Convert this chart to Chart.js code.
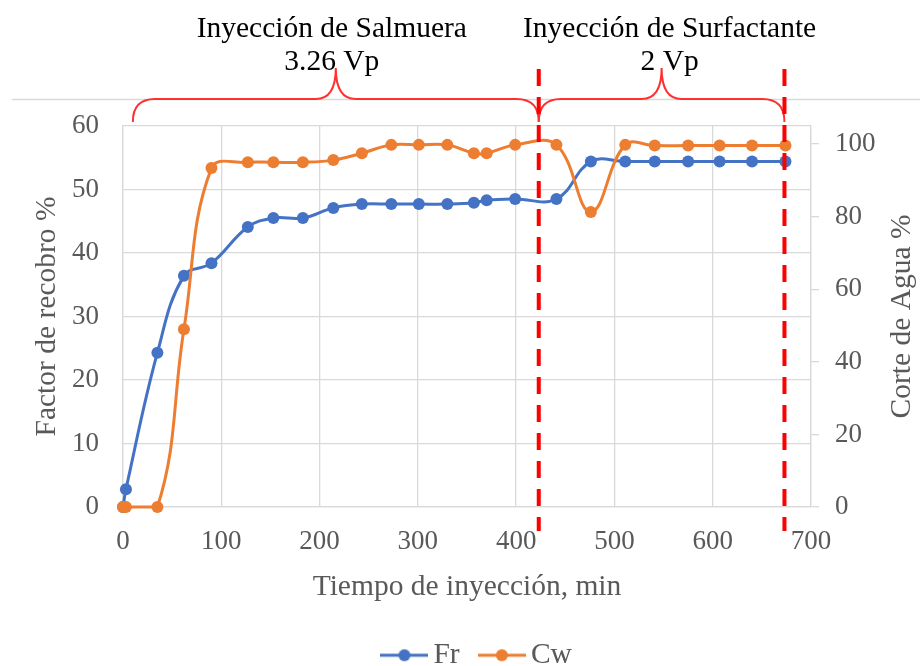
<!DOCTYPE html>
<html><head><meta charset="utf-8">
<script src="https://cdn.jsdelivr.net/npm/chart.js@4/dist/chart.umd.min.js"></script>
<style>html,body{margin:0;padding:0;background:#fff}#wrap{width:920px;height:666px}</style>
</head><body><div id="wrap"><canvas id="c" width="920" height="666"></canvas></div>
<script>
// ---- data ----
const timeMin  = [0, 3, 35, 62, 90, 127, 153, 183, 214, 243, 273, 301, 330, 357, 370, 399, 441, 476, 511, 541, 575, 607, 640, 674];
const frValues = [0, 2.8, 24.3, 36.4, 38.4, 44.1, 45.5, 45.5, 47.1, 47.7, 47.7, 47.7, 47.7, 47.9, 48.3, 48.5, 48.5, 54.4, 54.4, 54.4, 54.4, 54.4, 54.4, 54.4];
const cwValues = [0, 0, 0, 49, 93.4, 95, 95, 95, 95.6, 97.5, 99.8, 99.8, 99.8, 97.5, 97.5, 99.8, 99.8, 81.3, 99.8, 99.6, 99.6, 99.6, 99.6, 99.6];
const seriesNames = ['Fr', 'Cw'];
const xTickValues = [0, 100, 200, 300, 400, 500, 600, 700];
const leftTickValues = [0, 10, 20, 30, 40, 50, 60];
const rightTickValues = [0, 20, 40, 60, 80, 100];
const phaseBounds = [423, 673];
const braceSpans = [[10, 423], [423, 673]];
const phaseTitles = ['Inyección de Salmuera', 'Inyección de Surfactante'];
const phaseVolumes = ['3.26 Vp', '2 Vp'];

const FAM = "'Liberation Serif','Times New Roman',serif";
const GRAY = '#595959', GRID = '#d9d9d9';
const BLUE = '#4472C4', ORANGE = '#ED7D31';

function makeIcon(color){
  const c = document.createElement('canvas'); c.width = 48; c.height = 14;
  const g = c.getContext('2d');
  g.strokeStyle = color; g.lineWidth = 3;
  g.beginPath(); g.moveTo(0, 7); g.lineTo(48, 7); g.stroke();
  g.fillStyle = color; g.beginPath(); g.arc(24, 7, 6, 0, Math.PI * 2); g.fill();
  return c;
}
const icons = [makeIcon(BLUE), makeIcon(ORANGE)];

const phasePlugin = {
  id: 'phases',
  afterLayout(chart){
    const lg = chart.legend;
    if (lg){ lg.top += 14; lg.bottom += 14; lg.left += 21; lg.right += 21; }
  },
  beforeDraw(chart){
    const ctx = chart.ctx; ctx.save(); ctx.fillStyle = '#fff'; ctx.fillRect(0, 0, chart.width, chart.height); ctx.restore();
  },
  afterDatasetsDraw(chart){
    const ctx = chart.ctx, xs = chart.scales.x, a = chart.chartArea;
    ctx.save();
    ctx.strokeStyle = GRID; ctx.lineWidth = 1.5;
    ctx.beginPath(); ctx.moveTo(12, 99.5); ctx.lineTo(chart.width, 99.5); ctx.stroke();
    ctx.strokeStyle = '#ff3030'; ctx.lineWidth = 2;
    braceSpans.forEach(([s, e]) => {
      const x0 = xs.getPixelForValue(s), x1 = xs.getPixelForValue(e), xm = (x0 + x1) / 2;
      const yb = 99, ye = 122, yt = 68, r = 22, rt = 20;
      ctx.beginPath();
      ctx.moveTo(x0, ye);
      ctx.quadraticCurveTo(x0, yb, x0 + r, yb);
      ctx.lineTo(xm - rt, yb);
      ctx.quadraticCurveTo(xm, yb, xm, yt);
      ctx.quadraticCurveTo(xm, yb, xm + rt, yb);
      ctx.lineTo(x1 - r, yb);
      ctx.quadraticCurveTo(x1, yb, x1, ye);
      ctx.stroke();
    });
    ctx.strokeStyle = '#ff0000'; ctx.lineWidth = 4; ctx.setLineDash([17, 11]);
    phaseBounds.forEach(v => {
      const px = xs.getPixelForValue(v);
      ctx.beginPath(); ctx.moveTo(px, 69); ctx.lineTo(px, 531); ctx.stroke();
    });
    ctx.setLineDash([]);
    ctx.fillStyle = '#000'; ctx.font = '29.5px ' + FAM; ctx.textAlign = 'center'; ctx.textBaseline = 'alphabetic';
    const offs = [-4, 8];
    braceSpans.forEach(([s, e], i) => {
      const xm = (xs.getPixelForValue(s) + xs.getPixelForValue(e)) / 2 + offs[i];
      ctx.fillText(phaseTitles[i], xm, 37);
      ctx.fillText(phaseVolumes[i], xm, 70);
    });
    // right axis title (reads bottom to top)
    const y1 = chart.scales.y1;
    ctx.fillStyle = GRAY; ctx.textBaseline = 'middle';
    ctx.translate(y1.right - 18, (a.top + a.bottom) / 2);
    ctx.rotate(-Math.PI / 2);
    ctx.fillText('Corte de Agua %', 0, 0);
    ctx.restore();
  }
};

const setTicks = arr => s => { s.ticks = arr.map(v => ({value: v})); };

new Chart(document.getElementById('c'), {
  type: 'line',
  data: {
    datasets: [
      { label: seriesNames[0], data: timeMin.map((t, i) => ({x: t, y: frValues[i]})), yAxisID: 'y',
        borderColor: BLUE, backgroundColor: BLUE, pointBackgroundColor: BLUE, pointBorderWidth: 0,
        pointRadius: 6, borderWidth: 3, tension: 0.4, clip: false, order: 1 },
      { label: seriesNames[1], data: timeMin.map((t, i) => ({x: t, y: cwValues[i]})), yAxisID: 'y1',
        borderColor: ORANGE, backgroundColor: ORANGE, pointBackgroundColor: ORANGE, pointBorderWidth: 0,
        pointRadius: 6, borderWidth: 3, tension: 0.4, clip: false, order: 0 }
    ]
  },
  options: {
    responsive: false, animation: false, devicePixelRatio: 1,
    layout: { padding: { top: 126, left: 0, right: 0, bottom: 0 } },
    plugins: {
      tooltip: { enabled: false },
      legend: {
        position: 'bottom',
        labels: {
          usePointStyle: true, pointStyleWidth: 28.5, padding: 28, color: GRAY,
          font: { family: FAM, size: 29.5 },
          sort: (a, b) => a.datasetIndex - b.datasetIndex,
          generateLabels(chart){
            const items = Chart.defaults.plugins.legend.labels.generateLabels(chart);
            items.forEach(it => { it.pointStyle = icons[it.datasetIndex]; });
            return items;
          }
        }
      }
    },
    scales: {
      x: {
        type: 'linear', min: 0, max: 700, afterBuildTicks: setTicks(xTickValues),
        grid: { color: GRID, lineWidth: 1.3, drawTicks: false },
        border: { color: GRID, width: 1.3 },
        ticks: { padding: 19, color: GRAY, font: { family: FAM, size: 27 }, maxRotation: 0, autoSkip: false },
        title: { display: true, text: 'Tiempo de inyección, min', color: GRAY, font: { family: FAM, size: 29.5, lineHeight: 0.78 }, padding: 0 },
        afterFit(s){ s.height = 666 - 507 - (s.chart.legend ? s.chart.legend.height : 67.5); }
      },
      y: {
        position: 'left', min: 0, max: 60, afterBuildTicks: setTicks(leftTickValues),
        grid: { color: GRID, lineWidth: 1.3, drawTicks: false },
        border: { color: GRID, width: 1.3 },
        ticks: { padding: 24, color: GRAY, font: { family: FAM, size: 27 } },
        title: { display: true, text: 'Factor de recobro %', color: GRAY, font: { family: FAM, size: 29.5 }, padding: { top: 30, bottom: 0 } },
        afterFit(s){ s.width = 123; }
      },
      y1: {
        position: 'right', min: 0, max: 105, afterBuildTicks: setTicks(rightTickValues),
        grid: { drawOnChartArea: false, color: GRID, lineWidth: 1.3, tickLength: 8 },
        border: { color: GRID, width: 1.3 },
        ticks: { padding: 16, color: GRAY, font: { family: FAM, size: 27 } },
        afterFit(s){ s.width = 109; }
      }
    }
  },
  plugins: [phasePlugin]
});
</script></body></html>
